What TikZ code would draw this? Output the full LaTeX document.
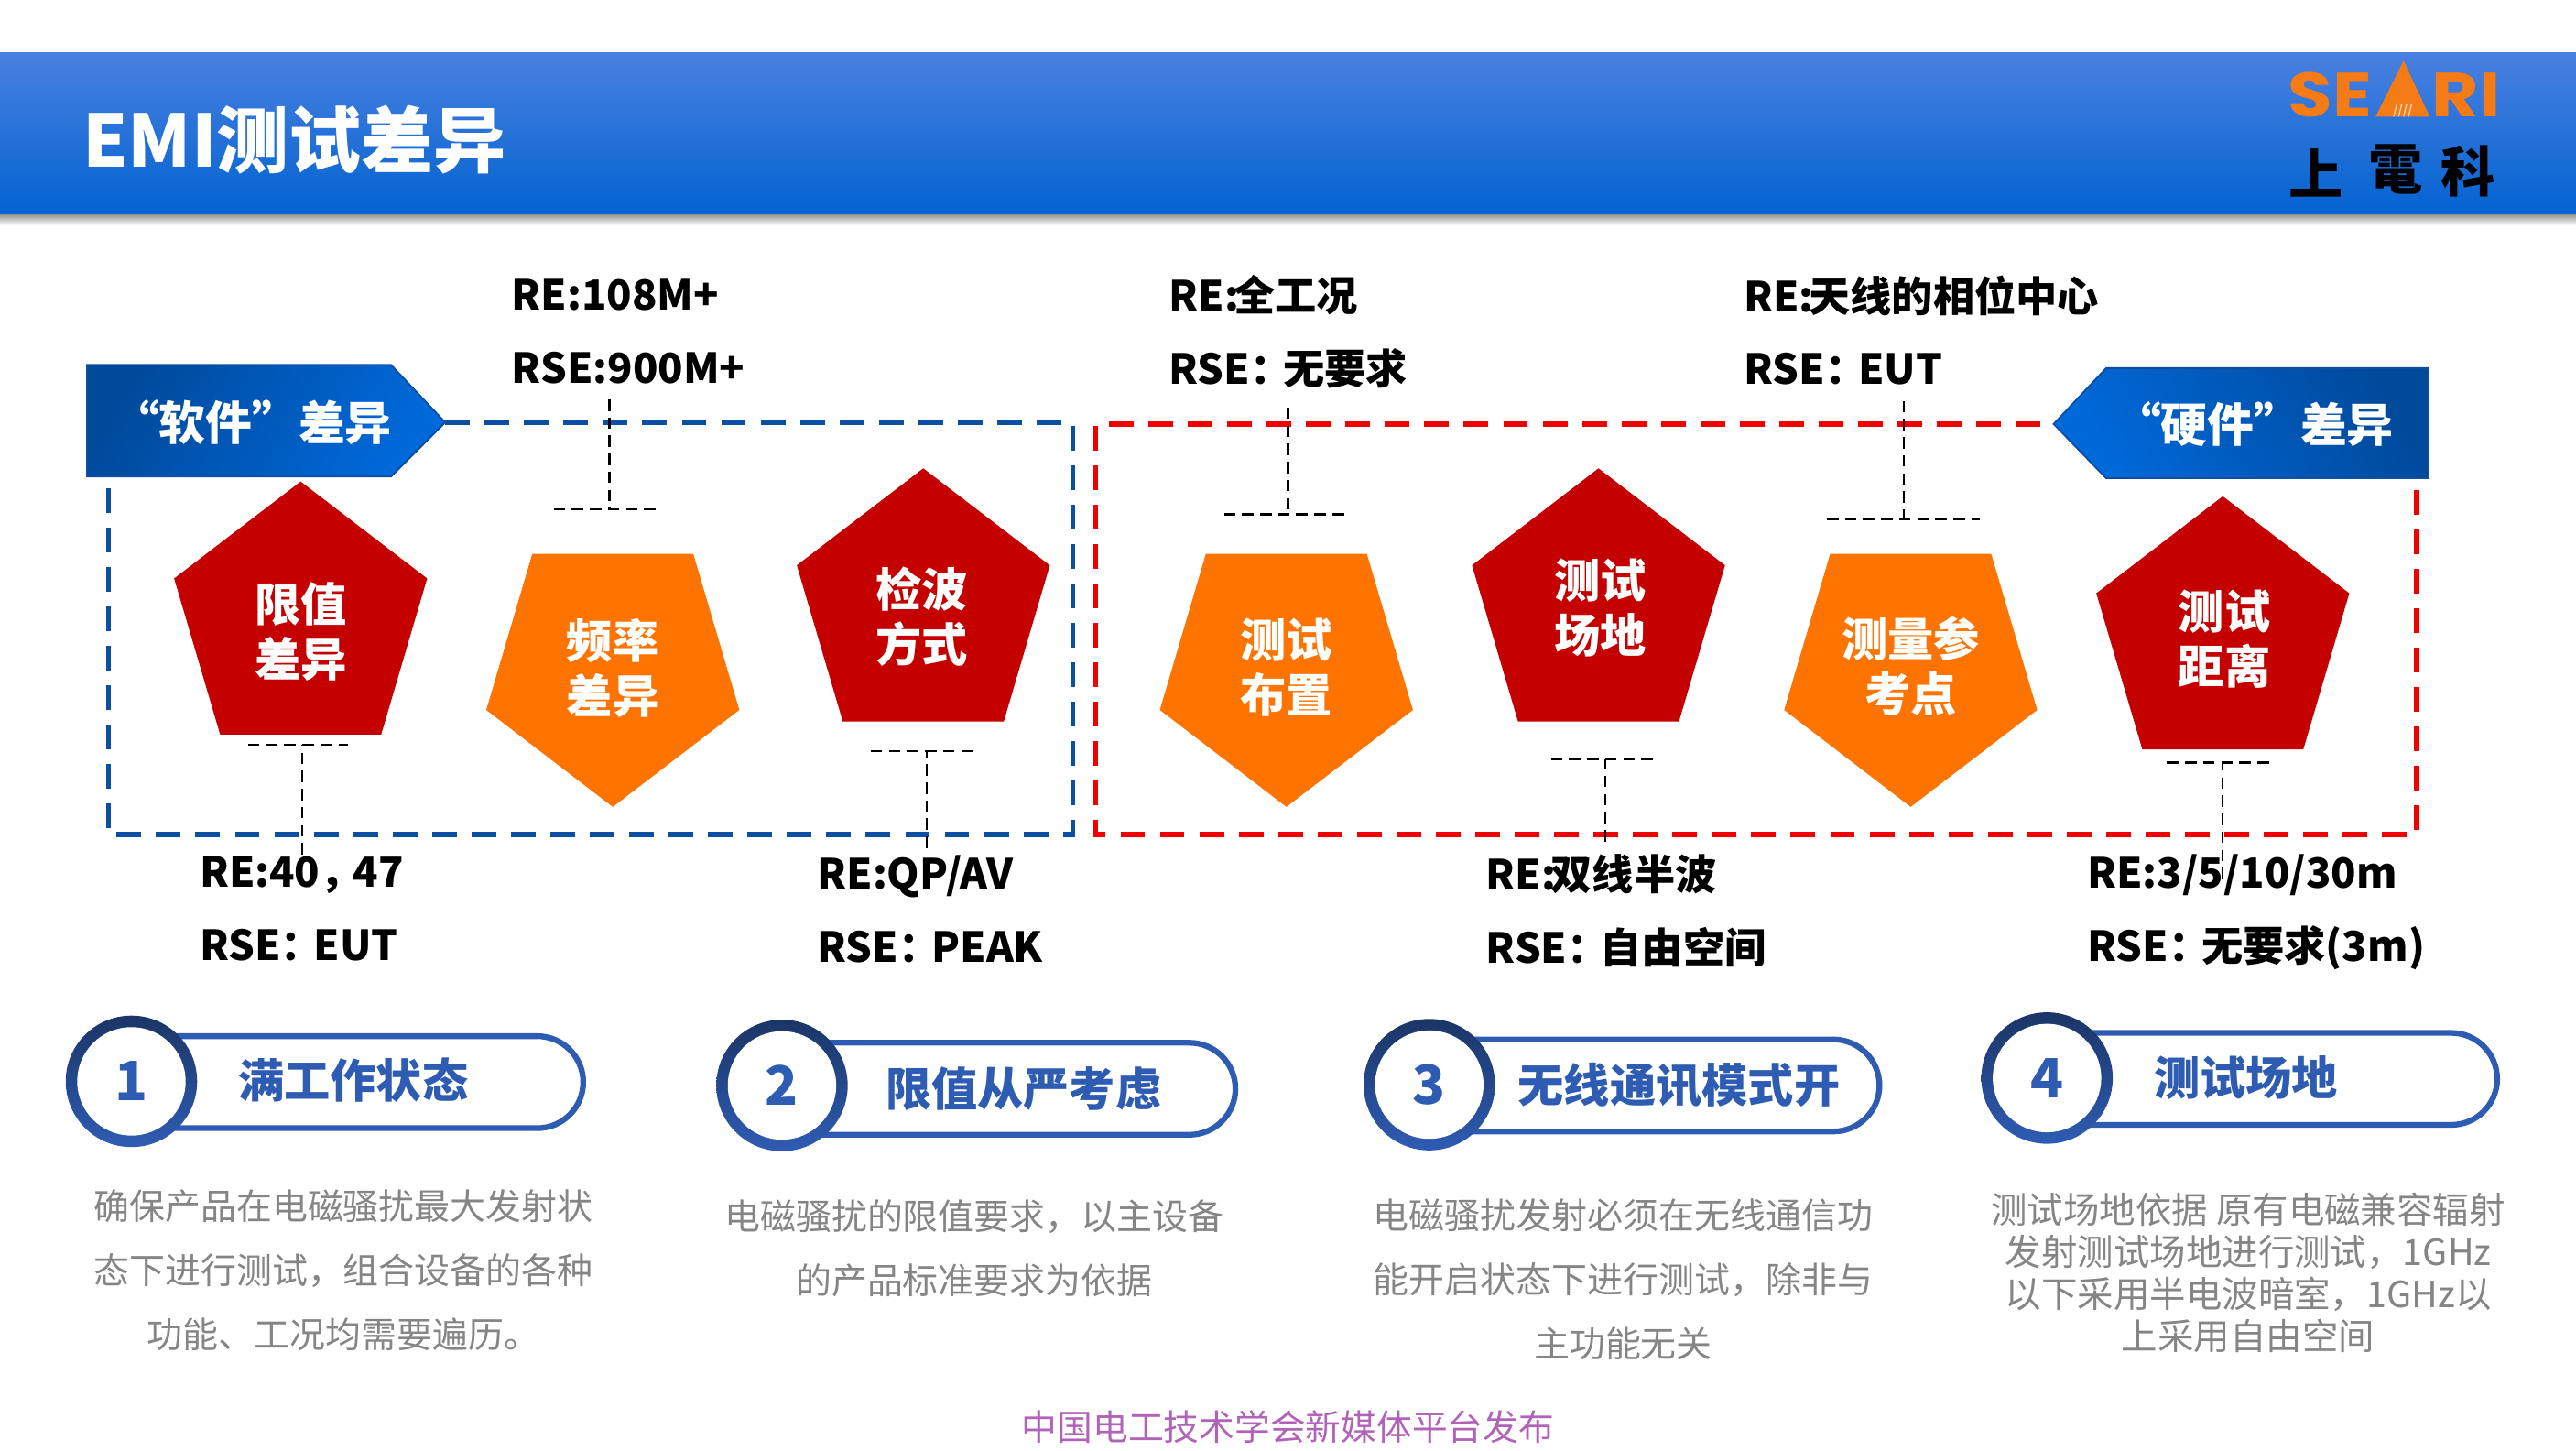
\documentclass[tikz,border=0pt]{standalone}
\usepackage{fontspec}
\setmainfont{Noto Sans CJK SC}
\newfontfamily\logofont{Poppins}
\newcommand{\tightcolon}{：\kern-5pt}
\definecolor{bandtop}{HTML}{4A80E0}
\definecolor{bandmid}{HTML}{0870E6}
\definecolor{bandlow}{HTML}{0363D0}
\definecolor{tagdark}{HTML}{004A9C}
\definecolor{taglight}{HTML}{0069DA}
\definecolor{softblue}{HTML}{0B4EA2}
\definecolor{hardred}{HTML}{F00000}
\definecolor{penred}{HTML}{C50000}
\definecolor{penorange}{HTML}{FF7300}
\definecolor{pillblue}{HTML}{2F5CB3}
\definecolor{ringdark}{HTML}{1B3566}
\definecolor{descgray}{HTML}{858585}
\definecolor{footpurple}{HTML}{B163B8}
\definecolor{logoorange}{HTML}{F47B16}
\tikzset{
    pentext/.style={text=white, font=\fontsize{28}{33.5}\selectfont\bfseries, align=center},
    tagtext/.style={text=white, font=\fontsize{28.3}{33}\selectfont\bfseries},
    reslabel/.style={anchor=west, font=\fontsize{25.2}{44.5}\selectfont\bfseries, align=left},
    softdash/.style={softblue, line width=3.2pt, dash pattern=on 15pt off 9pt},
    harddash/.style={hardred, line width=3.2pt, dash pattern=on 15pt off 9pt, dash phase=16pt},
    leader/.style={black, line width=1.3pt, dash pattern=on 7pt off 4pt},
    pilltext/.style={anchor=west, text=pillblue, font=\fontsize{28}{33}\selectfont\bfseries},
    desctext/.style={text=descgray, font=\fontsize{21.7}{39}\selectfont, align=center},
    logotext/.style={text=logoorange, inner sep=0pt, font=\fontsize{38}{40}\logofont\bfseries}
}
\begin{document}
\begin{tikzpicture}[x=1pt, y=-1pt]
    \useasboundingbox (0,0) rectangle (1568,882.4);
    % Header band
    \shade[top color=black!45, bottom color=white] (0,130) rectangle (1568,137);
    \shade[top color=bandtop, middle color=bandmid, bottom color=bandlow] (0,32) rectangle (1568,130);
    \node[anchor=west, text=white, inner sep=0pt, font=\fontsize{44}{50}\selectfont\bfseries] (title) at (50,85) {EMI测试差异};
    % Logo
    \fill[logoorange] (1463,37) -- (1479,71) -- (1446,71) -- cycle;
    \foreach \x in {1457,1460,1463,1466} \draw[white!70!logoorange, line width=0.7pt] (\x,71) -- (\x+2,63);
    \node[anchor=east, logotext] (logose) at (1444,57.5) {\scalebox{1.16}[1]{SE}};
    \node[anchor=west, logotext] (logori) at (1480,57.5) {\scalebox{1.16}[1]{RI}};
    \node[font=\fontsize{33}{36}\selectfont\bfseries] (logoa) at (1410,105) {上};
    \node[font=\fontsize{33}{36}\selectfont\bfseries] (logob) at (1458,103) {電};
    \node[font=\fontsize{33}{36}\selectfont\bfseries] (logoc) at (1502,104) {科};
    % Dashed frames
    \coordinate (softtip) at (271,257);
    \coordinate (softend) at (66,297);
    \coordinate (hardtip) at (1250,258);
    \coordinate (hardend) at (1471,298);
    \draw[softdash] (softtip) -- (653,257) -- (653,508) -- (66,508) -- (softend);
    \draw[harddash] (hardtip) -- (667,258) -- (667,508) -- (1471,508) -- (hardend);
    % Tags
    \shadedraw[draw=softblue, line width=1pt, left color=tagdark, middle color=taglight, right color=taglight, shading angle=60]
        (53,222) -- (238,222) -- (softtip) -- (238,290) -- (53,290) -- cycle;
    \shadedraw[draw=softblue, line width=1pt, left color=taglight, middle color=taglight, right color=tagdark, shading angle=120]
        (1478,224) -- (1282,224) -- (hardtip) -- (1282,291) -- (1478,291) -- cycle;
    \node[tagtext] (softtag) at (153.5,257) {“软件”差异};
    \node[tagtext] (hardtag) at (1372,258) {“硬件”差异};
    % Pentagons
    \foreach \cx/\tp in {183/293,562/285,973/285,1353/302}
        \fill[penred] (\cx,\tp) -- ++(77,59) -- ++(-28,95) -- ++(-98,0) -- ++(-28,-95) -- cycle;
    \foreach \cx/\tp in {373/491,783/491,1163/491}
        \fill[penorange] (\cx,\tp) -- ++(77,-59) -- ++(-28,-95) -- ++(-98,0) -- ++(-28,95) -- cycle;
    \node[pentext] (limit) at (183,384.5) {限值\\差异};
    \node[pentext] (freq) at (373,406.5) {频率\\差异};
    \node[pentext] (detect) at (561,375) {检波\\方式};
    \node[pentext] (layout) at (783,406) {测试\\布置};
    \node[pentext] (site) at (974,370) {测试\\场地};
    \node[pentext] (point) at (1163,405) {测量参\\考点};
    \node[pentext] (dist) at (1354,389) {测试\\距离};
    % Leaders
    \foreach \nm/\x/\ya/\yb/\xa/\xb in {a/371/243/310/337/399, b/784/248/313/745/819, c/1159/244/316/1112/1205,
        d/184/520/453/151/212, e/564/516/457/530/592, f/977/512/462/944/1006, g/1353/535/464/1319/1381} {
        \coordinate (lead\nm) at (\x,\ya);
        \coordinate (foot\nm) at (\x,\yb);
        \draw[leader] (lead\nm) -- (foot\nm);
        \draw[leader] (\xa,\yb) -- (\xb,\yb);
    }
    % Measure labels
    \node[reslabel] (toplabelb) at (308,202) {RE:108M+\\RSE:900M+};
    \node[reslabel] (toplabelc) at (708,202) {RE:\kern-3pt 全工况\\RSE\tightcolon 无要求};
    \node[reslabel] (toplabeld) at (1058,201) {RE:\kern-3pt 天线的相位中心\\RSE\tightcolon EUT};
    \node[reslabel] (lowlabela) at (118,553) {RE:40，\kern-5pt 47\\RSE\tightcolon EUT};
    \node[reslabel] (lowlabelb) at (494,553) {RE:QP/AV\\RSE\tightcolon PEAK};
    \node[reslabel] (lowlabelc) at (901,554) {RE:\kern-3pt 双线半波\\RSE\tightcolon 自由空间};
    \node[reslabel] (lowlabeld) at (1267,555) {RE:3/5/10/30m\\RSE\tightcolon 无要求(3m)};
    % Numbered pills
    \foreach \i/\cx/\cy/\pr/\py/\tx/\ty/\txt in {1/80/658/355/658.5/141.5/657/满工作状态, 2/476/660.5/752/662.5/535.5/662.5/限值从严考虑,
        3/870/660/1144/660.5/920.5/660.5/无线通讯模式开, 4/1246/656/1520/656.5/1307.5/655.5/测试场地} {
        \draw[pillblue, line width=3.5pt, rounded corners=28pt] (\cx+20,\py-28) -- (\pr,\py-28) -- (\pr,\py+28) -- (\cx+20,\py+28);
        \shade[top color=ringdark, bottom color=pillblue] (\cx,\cy) circle (40);
        \fill[white] (\cx,\cy) circle (33);
        \node[text=pillblue, font=\fontsize{33}{36}\selectfont\bfseries] (num\i) at (\cx,\cy) {\i};
        \node[pilltext] (pill\i) at (\tx,\ty) {\txt};
    }
    % Descriptions
    \node[desctext] (desca) at (209,773) {确保产品在电磁骚扰最大发射状\\态下进行测试，组合设备的各种\\功能、工况均需要遍历。};
    \node[desctext] (descb) at (593,759.5) {电磁骚扰的限值要求，以主设备\\的产品标准要求为依据};
    \node[desctext] (descc) at (988,778.5) {电磁骚扰发射必须在无线通信功\\能开启状态下进行测试，除非与\\主功能无关};
    \node[desctext, font=\fontsize{22}{25.7}\selectfont] (descd) at (1368.5,774.5) {测试场地依据 原有电磁兼容辐射\\发射测试场地进行测试，1GHz\\以下采用半电波暗室，1GHz以\\上采用自由空间};
    \node[text=footpurple, font=\fontsize{21.6}{25}\selectfont] (foot) at (784,868) {中国电工技术学会新媒体平台发布};
\end{tikzpicture}
\end{document}
